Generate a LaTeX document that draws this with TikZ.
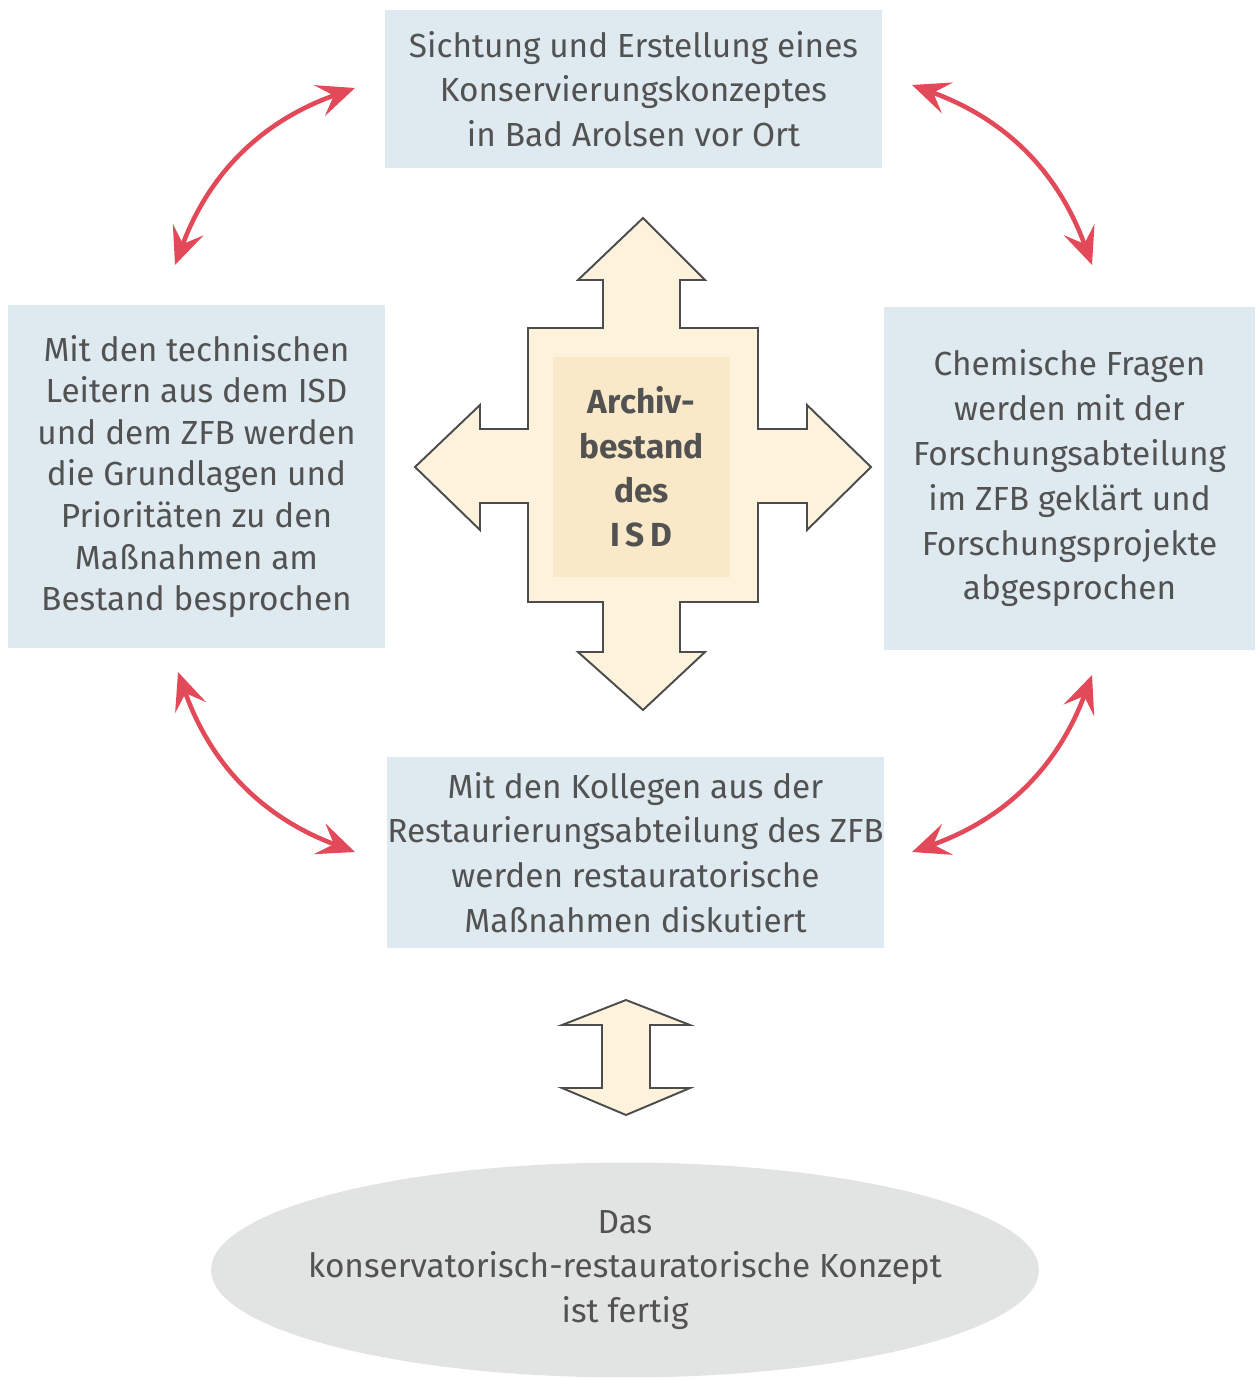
\documentclass[tikz,border=0pt]{standalone}
\usepackage{fontspec}
\setmainfont{Fira Sans}
\usetikzlibrary{arrows.meta,shapes.geometric}
\definecolor{boxblau}{RGB}{222,233,240}
\definecolor{kreuzgelb}{RGB}{253,243,221}
\definecolor{kerngelb}{RGB}{250,233,200}
\definecolor{ovalgrau}{RGB}{226,228,228}
\definecolor{pfeilrot}{RGB}{226,74,90}
\definecolor{textgrau}{RGB}{82,82,82}
\tikzset{
  infobox/.style={fill=boxblau, text=textgrau, align=center, inner sep=0pt,
    font=\fontsize{19}{25.5}\selectfont},
  wechsel/.style={pfeilrot, line width=2.6pt,
    {Stealth[length=7.5mm,width=6.5mm,inset=3mm]}-{Stealth[length=7.5mm,width=6.5mm,inset=3mm]}},
  blockpfeil/.style={draw=black!70, line width=1.1pt, fill=kreuzgelb, line join=miter},
}

\begin{document}
\begin{tikzpicture}[x=0.02cm,y=0.02cm]
        \fill[white] (0,0) rectangle (1255,-1382);
        \useasboundingbox (0,0) rectangle (1255,-1382);
        % vier Stationen
        \node[infobox, minimum width=9.94cm, minimum height=3.16cm] (sichtung) at (633.5,-89)
          {Sichtung und Erstellung eines\\Konservierungskonzeptes\\in Bad Arolsen vor Ort};
        \node[infobox, minimum width=7.54cm, minimum height=6.86cm,
          font=\fontsize{19}{23.7}\selectfont] (leiter) at (196.5,-476.5)
          {Mit den technischen\\Leitern aus dem ISD\\und dem ZFB werden\\die Grundlagen und\\Prioritäten zu den\\Maßnahmen am\\Bestand besprochen};
        \node[infobox, minimum width=7.42cm, minimum height=6.86cm] (chemie) at (1069.5,-478.5)
          {Chemische Fragen\\werden mit der\\Forschungsabteilung\\im ZFB geklärt und\\Forschungsprojekte\\abgesprochen};
        \node[infobox, minimum width=9.94cm, minimum height=3.82cm] (kollegen) at (635.5,-852.5)
          {Mit den Kollegen aus der\\Restaurierungsabteilung des ZFB\\werden restauratorische\\Maßnahmen diskutiert};
        % Kreuzpfeil in der Mitte
        \draw[blockpfeil] (643,-218) -- (705,-280) -- (680,-280) -- (680,-328) -- (758,-328)
          -- (758,-429) -- (807,-429) -- (807,-405) -- (871,-467) -- (807,-530) -- (807,-503)
          -- (758,-503) -- (758,-602) -- (680,-602) -- (680,-652) -- (705,-652) -- (643,-710)
          -- (578,-652) -- (603,-652) -- (603,-602) -- (528,-602) -- (528,-503) -- (480,-503)
          -- (480,-530) -- (415,-467) -- (480,-405) -- (480,-429) -- (528,-429) -- (528,-328)
          -- (603,-328) -- (603,-280) -- (578,-280) -- cycle;
        \node[fill=kerngelb, minimum width=3.54cm, minimum height=4.4cm, align=center,
          text=textgrau, font=\bfseries\fontsize{19}{25.3}\selectfont] (isd) at (641.5,-467)
          {Archiv-\\bestand\\des\\I\,S\,D};
        % Doppelpfeil nach unten
        \draw[blockpfeil] (626,-1000) -- (690,-1025) -- (650,-1025) -- (650,-1088) -- (690,-1088)
          -- (626,-1115) -- (562,-1088) -- (602,-1088) -- (602,-1025) -- (562,-1025) -- cycle;
        \node[ellipse, fill=ovalgrau, text=textgrau, minimum width=16.56cm, minimum height=4.3cm,
          align=center, inner xsep=-2.5cm, inner ysep=0pt, font=\fontsize{19}{25.5}\selectfont]
          (konzept) at (625,-1270)
          {Das\\konservatorisch-restauratorische Konzept\\ist fertig};
        % rote Wechselpfeile
        \coordinate (lo) at (175,-265);
        \coordinate (ol) at (355,-88);
        \coordinate (or) at (912,-85);
        \coordinate (ro) at (1092,-265);
        \coordinate (ru) at (1092,-675);
        \coordinate (ur) at (912,-852);
        \coordinate (ul) at (355,-852);
        \coordinate (lu) at (178,-672);
        \draw[wechsel] (lo) to[bend left=25] (ol);
        \draw[wechsel] (or) to[bend left=25] (ro);
        \draw[wechsel] (ru) to[bend left=25] (ur);
        \draw[wechsel] (ul) to[bend left=25] (lu);
\end{tikzpicture}
\end{document}
